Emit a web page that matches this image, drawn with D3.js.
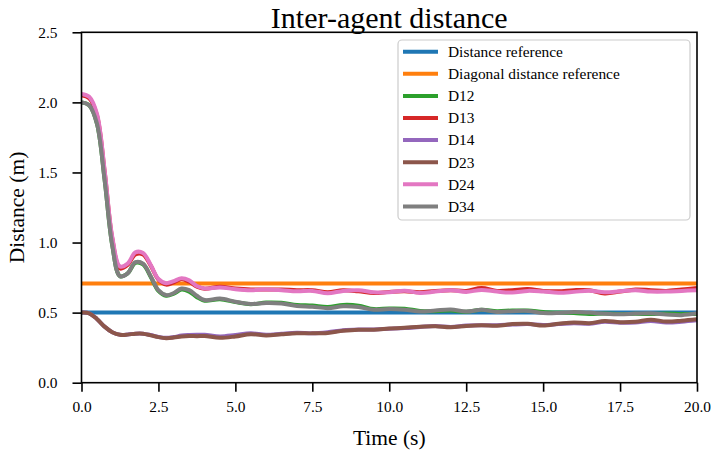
<!DOCTYPE html>
<html>
<head>
<meta charset="utf-8">
<script src="https://cdn.jsdelivr.net/npm/d3@7"></script>
<style>
  html, body { margin: 0; padding: 0; background: #fff; }
  svg text { font-family: "Liberation Serif", "Times New Roman", serif; fill: #000; }
</style>
</head>
<body>
<svg id="chart" width="712" height="450"></svg>
<script>
// ---- data ----
const time = [0,0.25,0.5,0.75,1.0,1.25,1.5,1.75,2.0,2.25,2.5,2.75,3.0,3.25,3.5,3.75,4.0,4.5,5.0,5.5,6.0,6.5,7.0,7.5,8.0,8.5,9.0,9.5,10.0,10.5,11.0,11.5,12.0,12.5,13.0,13.5,14.0,14.5,15.0,15.5,16.0,16.5,17.0,17.5,18.0,18.5,19.0,19.5,20.0];

const distanceReference = 0.5;
const diagonalReference = 0.7071;

const D12 = [2.00,1.98,1.85,1.45,0.98,0.76,0.78,0.855,0.845,0.755,0.655,0.62,0.635,0.665,0.65,0.61,0.585,0.595,0.575,0.56,0.572,0.57,0.555,0.55,0.54,0.555,0.55,0.525,0.53,0.528,0.512,0.51,0.515,0.506,0.52,0.51,0.515,0.515,0.505,0.5,0.497,0.49,0.493,0.49,0.492,0.49,0.494,0.49,0.49];
const D13 = [2.05,2.03,1.91,1.51,1.03,0.815,0.84,0.915,0.915,0.835,0.735,0.70,0.715,0.74,0.72,0.685,0.67,0.685,0.672,0.665,0.665,0.665,0.66,0.66,0.645,0.66,0.652,0.64,0.648,0.652,0.645,0.655,0.66,0.655,0.675,0.655,0.66,0.668,0.655,0.652,0.66,0.66,0.637,0.65,0.665,0.66,0.655,0.665,0.675];
const D14 = [0.50,0.495,0.455,0.40,0.36,0.342,0.344,0.35,0.35,0.34,0.327,0.32,0.326,0.336,0.34,0.342,0.342,0.33,0.34,0.352,0.342,0.35,0.356,0.352,0.36,0.375,0.38,0.38,0.385,0.39,0.398,0.405,0.398,0.408,0.41,0.41,0.415,0.418,0.412,0.418,0.425,0.42,0.435,0.428,0.43,0.44,0.43,0.435,0.445];
const D23 = [0.50,0.495,0.455,0.40,0.36,0.342,0.343,0.35,0.35,0.338,0.325,0.318,0.322,0.33,0.334,0.332,0.333,0.32,0.33,0.346,0.337,0.345,0.352,0.352,0.355,0.37,0.378,0.378,0.386,0.392,0.40,0.402,0.395,0.405,0.41,0.406,0.418,0.42,0.408,0.42,0.43,0.424,0.44,0.432,0.435,0.45,0.436,0.442,0.452];
const D24 = [2.06,2.04,1.92,1.52,1.04,0.83,0.85,0.93,0.925,0.84,0.74,0.71,0.725,0.745,0.73,0.69,0.672,0.68,0.667,0.66,0.665,0.66,0.652,0.655,0.638,0.655,0.66,0.645,0.645,0.656,0.64,0.65,0.66,0.648,0.662,0.65,0.643,0.655,0.65,0.642,0.648,0.656,0.645,0.652,0.66,0.65,0.65,0.655,0.66];
const D34 = [2.00,1.98,1.85,1.45,0.98,0.76,0.78,0.86,0.85,0.76,0.66,0.625,0.64,0.672,0.66,0.62,0.59,0.60,0.578,0.562,0.568,0.565,0.548,0.542,0.532,0.545,0.54,0.52,0.525,0.52,0.508,0.515,0.522,0.508,0.52,0.505,0.51,0.512,0.497,0.498,0.505,0.50,0.492,0.488,0.493,0.495,0.487,0.482,0.495];

const seriesNames = ["Distance reference","Diagonal distance reference","D12","D13","D14","D23","D24","D34"];
const seriesColors = ["#1f77b4","#ff7f0e","#2ca02c","#d62728","#9467bd","#8c564b","#e377c2","#7f7f7f"];
const xTicks = [0,2.5,5,7.5,10,12.5,15,17.5,20];
const yTicks = [0,0.5,1.0,1.5,2.0,2.5];

// ---- layout ----
const FONT = '"Liberation Serif", "Times New Roman", serif';
const svg = d3.select("#chart");
const L = 81.5, R = 697, T = 32.3, B = 382.7;

const x = d3.scaleLinear().domain([0,20]).range([L,R]);
const y = d3.scaleLinear().domain([0,2.5]).range([B,T]);

const series = [
  {name: seriesNames[0], color: seriesColors[0], values: time.map(() => distanceReference)},
  {name: seriesNames[1], color: seriesColors[1], values: time.map(() => diagonalReference)},
  {name: seriesNames[2], color: seriesColors[2], values: D12},
  {name: seriesNames[3], color: seriesColors[3], values: D13},
  {name: seriesNames[4], color: seriesColors[4], values: D14},
  {name: seriesNames[5], color: seriesColors[5], values: D23},
  {name: seriesNames[6], color: seriesColors[6], values: D24},
  {name: seriesNames[7], color: seriesColors[7], values: D34}
];

const line = d3.line()
  .x((d,i) => x(time[i]))
  .y(d => y(d))
  .curve(d3.curveCatmullRom.alpha(0.5));

svg.append("defs").append("clipPath").attr("id","clip")
  .append("rect").attr("x",L).attr("y",T).attr("width",R-L).attr("height",B-T);

const g = svg.append("g").attr("clip-path","url(#clip)");
series.forEach(s => {
  g.append("path")
    .attr("d", line(s.values))
    .attr("fill","none")
    .attr("stroke", s.color)
    .attr("stroke-width", 4)
    .attr("stroke-linejoin","round")
    .attr("stroke-linecap","butt");
});

// ---- axes ----
const xAxis = d3.axisBottom(x).tickValues(xTicks).tickFormat(d3.format(".1f")).tickSizeOuter(0).tickSize(9).tickPadding(9);
const yAxis = d3.axisLeft(y).tickValues(yTicks).tickFormat(d3.format(".1f")).tickSizeOuter(0).tickSize(9).tickPadding(15);

const gx = svg.append("g").attr("transform",`translate(0,${B})`).call(xAxis);
const gy = svg.append("g").attr("transform",`translate(${L},0)`).call(yAxis);
[gx,gy].forEach(a => {
  a.attr("font-family", FONT).attr("font-size", 15);
  a.select(".domain").remove();
  a.selectAll(".tick line").attr("stroke","#000").attr("stroke-width",1.6);
  a.selectAll(".tick text").attr("font-family", FONT).attr("font-size", 15.4).attr("fill","#000");
});

// frame
svg.append("rect").attr("x",L).attr("y",T).attr("width",R-L).attr("height",B-T)
  .attr("fill","none").attr("stroke","#000").attr("stroke-width",1.6);

// titles
svg.append("text").attr("x",(L+R)/2).attr("y",28).attr("text-anchor","middle")
  .attr("font-family", FONT).attr("font-size",30).text("Inter-agent distance");
svg.append("text").attr("x",(L+R)/2).attr("y",445).attr("text-anchor","middle")
  .attr("font-family", FONT).attr("font-size",21.5).text("Time (s)");
svg.append("text").attr("transform",`translate(24,${(T+B)/2}) rotate(-90)`).attr("text-anchor","middle")
  .attr("font-family", FONT).attr("font-size",21.5).text("Distance (m)");

// legend
const lg = svg.append("g");
lg.append("rect").attr("x",398).attr("y",40).attr("width",292).attr("height",180)
  .attr("rx",4).attr("fill","#fff").attr("fill-opacity",0.8).attr("stroke","#cccccc").attr("stroke-width",1.2);
series.forEach((s,i) => {
  const yy = 51.7 + i*22.1;
  lg.append("line").attr("x1",403).attr("x2",438).attr("y1",yy).attr("y2",yy)
    .attr("stroke",s.color).attr("stroke-width",4);
  lg.append("text").attr("x",448).attr("y",yy).attr("dy","0.35em")
    .attr("font-family", FONT).attr("font-size",15.4).text(s.name);
});
</script>
</body>
</html>
